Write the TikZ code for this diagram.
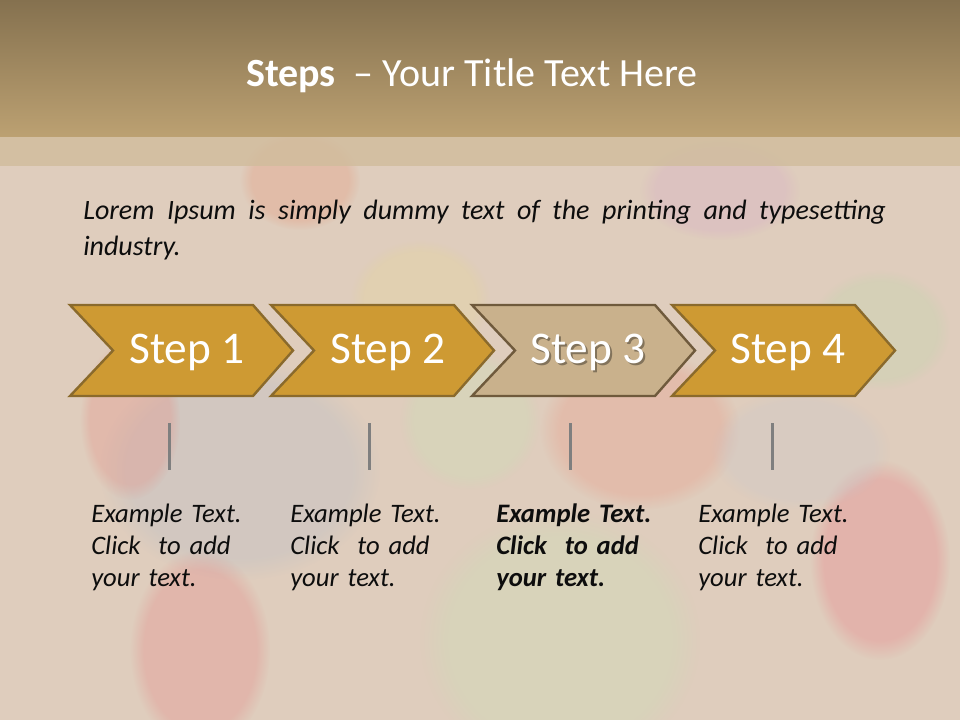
\documentclass[tikz,border=0pt]{standalone}
\usepackage{fontspec}
\setmainfont{Carlito}
\usetikzlibrary{fadings}
\definecolor{bgcol}{HTML}{DFCDBD}
\definecolor{bartop}{HTML}{85714F}
\definecolor{barbot}{HTML}{BCA172}
\definecolor{band}{HTML}{D0BC9C}
\definecolor{gold}{HTML}{CE9A33}
\definecolor{goldedge}{HTML}{8A6A2C}
\definecolor{tanfill}{HTML}{C9B18C}
\definecolor{tanedge}{HTML}{6F5A3C}
\definecolor{tickgray}{HTML}{7F7F7F}
\definecolor{textdark}{HTML}{0D0D0D}
\begin{document}
\begin{tikzpicture}[x=0.75pt,y=-0.75pt,
  blob/.style={opacity=0.3, path fading=circle with fuzzy edge 20 percent},
  chev/.style={fill=gold, draw=goldedge, line width=1.8pt, line join=miter},
  chevsel/.style={fill=tanfill, draw=tanedge, line width=1.8pt, line join=miter},
  steplabel/.style={font=\fontsize{34}{40}\selectfont, text=white, inner sep=0, anchor=base},
  tickline/.style={draw=tickgray, line width=2.25pt},
  note/.style={font=\itshape\fontsize{20}{24}\selectfont, text=textdark, align=left, anchor=north west, inner sep=0, text width=160pt},
  lorem/.style={font=\itshape\fontsize{21}{27}\selectfont, text=textdark, align=justify, anchor=north west, inner sep=0, text width=602pt},
  titlestyle/.style={font=\fontsize{30}{36}\selectfont, text=white, inner sep=0, anchor=base}
]
\useasboundingbox (0,0) rectangle (960,720);
% background
\fill[bgcol] (0,0) rectangle (960,720);
\begin{scope}
\clip (0,0) rectangle (960,720);
\fill[blob, fill={rgb,255:red,180;green,188;blue,200}] (240,470) ellipse (140 and 110);
\fill[blob, fill={rgb,255:red,230;green,140;blue,130}] (130,420) ellipse (50 and 80);
\fill[blob, fill={rgb,255:red,230;green,130;blue,130}] (200,650) ellipse (70 and 100);
\fill[blob, fill={rgb,255:red,200;green,225;blue,180}] (560,640) ellipse (140 and 130);
\fill[blob, fill={rgb,255:red,200;green,225;blue,180}] (470,420) ellipse (70 and 70);
\fill[blob, fill={rgb,255:red,235;green,150;blue,130}] (640,430) ellipse (100 and 80);
\fill[blob, fill={rgb,255:red,235;green,120;blue,130}] (880,560) ellipse (70 and 100);
\fill[blob, fill={rgb,255:red,230;green,215;blue,150}] (420,300) ellipse (70 and 60);
\fill[blob, fill={rgb,255:red,215;green,170;blue,200}] (720,190) ellipse (80 and 50);
\fill[blob, fill={rgb,255:red,190;green,215;blue,170}] (880,330) ellipse (70 and 60);
\fill[blob, fill={rgb,255:red,200;green,200;blue,205}] (800,450) ellipse (90 and 60);
\fill[blob, fill={rgb,255:red,230;green,150;blue,120}] (300,180) ellipse (60 and 50);
\end{scope}
% title bar
\shade[top color=bartop, bottom color=barbot] (0,0) rectangle (960,137);
\fill[band, opacity=0.8] (0,137) rectangle (960,166);
\node[titlestyle] (title) at (472,87) {\textbf{Steps}\ \ – Your Title Text Here};
% intro
\node[lorem] (intro) at (83,200) {Lorem Ipsum is simply dummy text of the printing and typesetting\linebreak industry.};
% chevrons
\draw[chev] (70,305) -- (253,305) -- (293,350.5) -- (253,396) -- (70,396) -- (113,350.5) -- cycle;
\draw[chev] (271,305) -- (454,305) -- (494,350.5) -- (454,396) -- (271,396) -- (314,350.5) -- cycle;
\draw[chevsel] (472,305) -- (655,305) -- (695,350.5) -- (655,396) -- (472,396) -- (515,350.5) -- cycle;
\draw[chev] (672,305) -- (855,305) -- (895,350.5) -- (855,396) -- (672,396) -- (715,350.5) -- cycle;
\node[steplabel] (s1) at (187,363) {Step 1};
\node[steplabel] (s2) at (388,363) {Step 2};
\node[steplabel, text=black, opacity=0.35] (s3shadow) at (590,365) {Step 3};
\node[steplabel] (s3) at (588,363) {Step 3};
\node[steplabel] (s4) at (788,363) {Step 4};
% ticks
\coordinate (t1a) at (169,423); \coordinate (t1b) at (169,470);
\coordinate (t2a) at (369,423); \coordinate (t2b) at (369,470);
\coordinate (t3a) at (570,423); \coordinate (t3b) at (570,470);
\coordinate (t4a) at (772,423); \coordinate (t4b) at (772,470);
\draw[tickline] (t1a) -- (t1b);
\draw[tickline] (t2a) -- (t2b);
\draw[tickline] (t3a) -- (t3b);
\draw[tickline] (t4a) -- (t4b);
% notes
\node[note] (n1) at (91,504) {Example Text.\\Click~~to add\\your text.};
\node[note] (n2) at (290,504) {Example Text.\\Click~~to add\\your text.};
\node[note, font=\bfseries\itshape\fontsize{20}{24}\selectfont] (n3) at (496,504) {Example Text.\\Click~~to add\\your text.};
\node[note] (n4) at (698,504) {Example Text.\\Click~~to add\\your text.};
\end{tikzpicture}
\end{document}
